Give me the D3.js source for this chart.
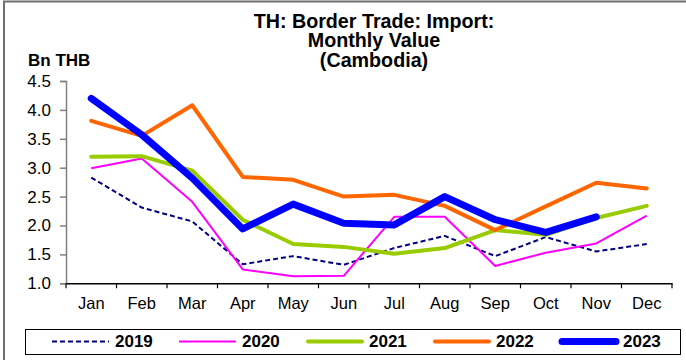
<!DOCTYPE html>
<html>
<head>
<meta charset="utf-8">
<script src="https://cdn.jsdelivr.net/npm/d3@7"></script>
<style>
  body { margin: 0; background: #fff; }
  svg { display: block; font-family: "Liberation Sans", Arial, sans-serif; }
  .axis text { fill: #000; }
  .axis--x text { font-size: 16.5px; }
  .axis--y text { font-size: 17px; }
</style>
</head>
<body>
<svg id="chart"></svg>
<script>
(function (d3) {
    'use strict';

    var months = ['Jan', 'Feb', 'Mar', 'Apr', 'May', 'Jun', 'Jul', 'Aug', 'Sep', 'Oct', 'Nov', 'Dec'];
    var yTicks = [1.0, 1.5, 2.0, 2.5, 3.0, 3.5, 4.0, 4.5];
    var years = ['2019', '2020', '2021', '2022', '2023'];

    var v2019 = [2.83, 2.31, 2.07, 1.33, 1.47, 1.32, 1.61, 1.82, 1.47, 1.80, 1.55, 1.68];
    var v2020 = [2.99, 3.16, 2.41, 1.24, 1.12, 1.13, 2.15, 2.15, 1.30, 1.53, 1.69, 2.17];
    var v2021 = [3.19, 3.20, 2.95, 2.10, 1.68, 1.63, 1.51, 1.61, 1.92, 1.84, 2.13, 2.34];
    var v2022 = [3.81, 3.55, 4.08, 2.84, 2.79, 2.50, 2.53, 2.34, 1.92, 2.33, 2.74, 2.64];
    var v2023 = [4.20, 3.57, 2.82, 1.94, 2.37, 2.04, 2.01, 2.50, 2.10, 1.88, 2.15, null];

    var width = 686,
        height = 360,
        margin = { top: 81, right: 14, bottom: 77, left: 66 };

    var series = [
        { name: years[0], values: v2019, color: '#000080', width: 2, dash: '5,3' },
        { name: years[1], values: v2020, color: '#ff00ff', width: 2, dash: null },
        { name: years[2], values: v2021, color: '#99cc00', width: 4, dash: null },
        { name: years[3], values: v2022, color: '#ff6600', width: 4, dash: null },
        { name: years[4], values: v2023, color: '#0000ff', width: 7, dash: null }
    ];

    var x = d3.scaleBand().domain(months).range([margin.left, width - margin.right]),
        y = d3.scaleLinear().domain([1, 4.5]).range([height - margin.bottom + 0.3, margin.top]);

    var svg = d3.select('#chart')
        .attr('width', width)
        .attr('height', height);

    // outer frame (only top and left edges are visible)
    svg.append('path')
        .attr('d', 'M4,360V1.5H686')
        .attr('fill', 'none')
        .attr('stroke', '#6e6e6e')
        .attr('stroke-width', 2);

    // title
    var title = svg.append('text')
        .attr('x', 374)
        .attr('text-anchor', 'middle')
        .style('font-size', '19.7px')
        .style('font-weight', 'bold');
    ['TH: Border Trade: Import:', 'Monthly Value', '(Cambodia)'].forEach(function (t, i) {
        title.append('tspan').attr('x', 374).attr('y', 27.5 + i * 19.7).text(t);
    });

    svg.append('text')
        .attr('x', 28)
        .attr('y', 66)
        .style('font-size', '17px')
        .style('font-weight', 'bold')
        .text('Bn THB');

    // y axis
    var yAxis = svg.append('g')
        .attr('class', 'axis axis--y')
        .attr('transform', 'translate(' + margin.left + ',0)')
        .call(d3.axisLeft(y).tickValues(yTicks).tickFormat(d3.format('.1f')).tickSize(6).tickPadding(9));
    yAxis.select('.domain').attr('stroke', '#808080').attr('stroke-width', 1.5);
    yAxis.selectAll('.tick line').attr('stroke', '#808080').attr('stroke-width', 1.5);

    // x axis: labels centred in bands, ticks at band edges
    var xAxis = svg.append('g')
        .attr('class', 'axis axis--x')
        .attr('transform', 'translate(0,' + y(1) + ')')
        .call(d3.axisBottom(x).tickSizeInner(0).tickSizeOuter(0).tickPadding(14));
    xAxis.select('.domain').attr('stroke', '#000').attr('stroke-width', 1.5);

    var edges = months.map(function (m) { return x(m); }).concat([x.range()[1]]);
    xAxis.selectAll('.edge')
        .data(edges)
        .enter()
        .append('line')
        .attr('class', 'edge')
        .attr('x1', function (d) { return d; })
        .attr('x2', function (d) { return d; })
        .attr('y1', 0)
        .attr('y2', 5)
        .attr('stroke', '#000')
        .attr('stroke-width', 1.2);

    // lines
    var line = d3.line()
        .defined(function (d) { return d != null; })
        .x(function (d, i) { return x(months[i]) + x.bandwidth() / 2; })
        .y(function (d) { return y(d); });

    svg.selectAll('.series')
        .data(series)
        .enter()
        .append('path')
        .attr('class', 'series')
        .attr('fill', 'none')
        .attr('stroke', function (d) { return d.color; })
        .attr('stroke-width', function (d) { return d.width; })
        .attr('stroke-dasharray', function (d) { return d.dash; })
        .attr('stroke-linejoin', 'round')
        .attr('stroke-linecap', function (d) { return d.width > 3 ? 'round' : 'butt'; })
        .attr('d', function (d) { return line(d.values); });

    // legend
    svg.append('rect')
        .attr('x', 25.5)
        .attr('y', 329.5)
        .attr('width', 655)
        .attr('height', 25)
        .attr('fill', '#fff')
        .attr('stroke', '#000')
        .attr('stroke-width', 1);

    var legend = svg.selectAll('.legend-item')
        .data(series)
        .enter()
        .append('g')
        .attr('class', 'legend-item')
        .attr('transform', function (d, i) { return 'translate(' + (52 + i * 127) + ',341.5)'; });

    legend.append('line')
        .attr('x1', function (d) { return d.width > 3 ? 2 : 0; })
        .attr('x2', function (d) { return d.width > 3 ? 56 : 57; })
        .attr('stroke', function (d) { return d.color; })
        .attr('stroke-width', function (d) { return d.width; })
        .attr('stroke-dasharray', function (d) { return d.dash; })
        .attr('stroke-linecap', function (d) { return d.width > 3 ? 'round' : 'butt'; });

    legend.append('text')
        .attr('x', 63)
        .attr('y', 5.5)
        .style('font-size', '17px')
        .style('font-weight', 'bold')
        .text(function (d) { return d.name; });

})(window.d3);
</script>
</body>
</html>
